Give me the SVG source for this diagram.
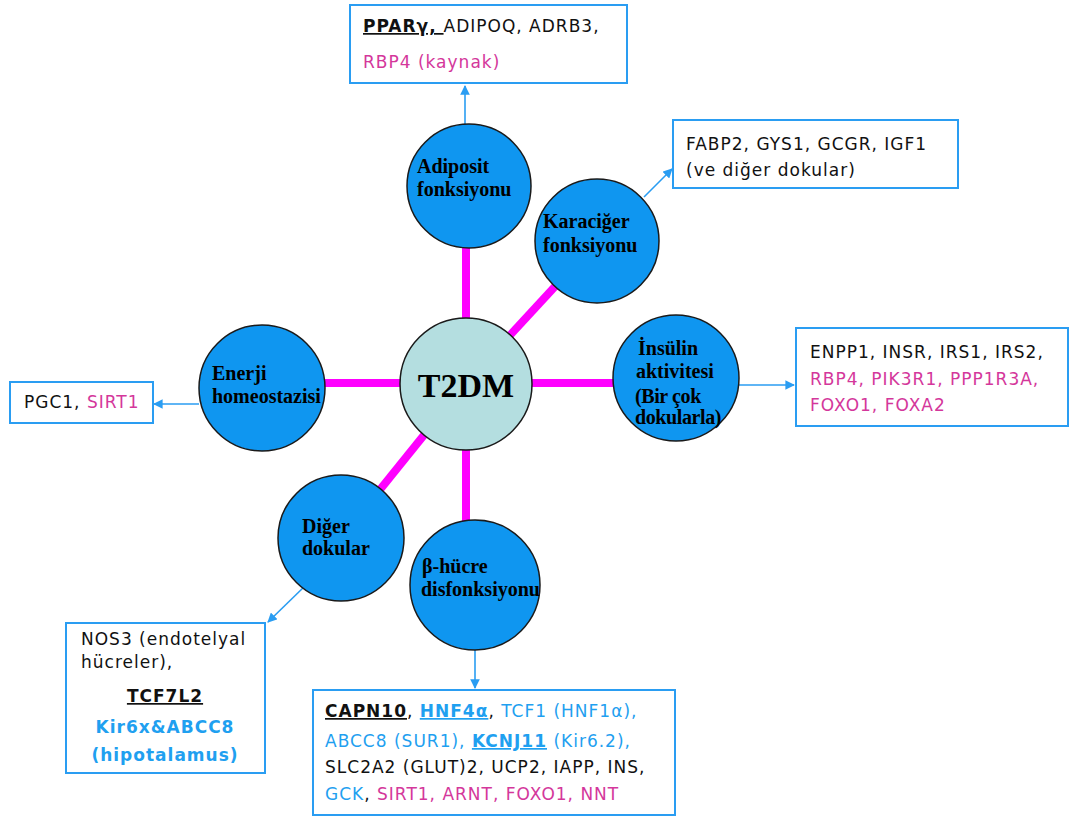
<svg xmlns="http://www.w3.org/2000/svg" width="1072" height="817" viewBox="0 0 1072 817">
<style>
.box{fill:#fff;stroke:#2a9df2;stroke-width:2}
.circ{fill:#0f96f0;stroke:#1a1a1a;stroke-width:1.5}
.hub{fill:#b4dee0;stroke:#1a1a1a;stroke-width:1.5}
.mag{stroke:#ff00ff;stroke-width:8;fill:none}
.arr{stroke:#2a9df2;stroke-width:1.6;fill:none;marker-end:url(#ah)}
.ct{font-family:"Liberation Serif","Times New Roman",serif;font-weight:bold;font-size:20px;fill:#000}
.st{font-family:"DejaVu Sans","Verdana",sans-serif;font-size:17px;fill:#111;letter-spacing:1px}
.m{fill:#d4379b}
.b{fill:#1fa0f0}
.bd{font-weight:bold}
.u{text-decoration:underline}
</style>
<defs>
<marker id="ah" viewBox="0 0 10 10" refX="9" refY="5" markerWidth="6" markerHeight="6" orient="auto" markerUnits="strokeWidth">
<path d="M0,0 L10,5 L0,10 z" fill="#2a9df2"/>
</marker>
</defs>
<g id="connectors">
<line class="mag" x1="466" y1="383" x2="466" y2="186"/>
<line class="mag" x1="466" y1="383" x2="597" y2="241"/>
<line class="mag" x1="466" y1="383" x2="676" y2="383"/>
<line class="mag" x1="466" y1="383" x2="262" y2="383"/>
<line class="mag" x1="466" y1="383" x2="341" y2="538"/>
<line class="mag" x1="466" y1="383" x2="466" y2="585"/>
<line class="arr" x1="465" y1="126" x2="465" y2="86"/>
<line class="arr" x1="644" y1="197" x2="672" y2="169"/>
<line class="arr" x1="738" y1="385" x2="794" y2="385"/>
<line class="arr" x1="199" y1="404" x2="154" y2="404"/>
<line class="arr" x1="306" y1="585" x2="268" y2="622"/>
<line class="arr" x1="475" y1="650" x2="475" y2="688"/>
</g>
<g id="hub">
<circle class="hub" cx="466" cy="384" r="66"/>
<text x="466" y="397" text-anchor="middle" font-family="Liberation Serif,serif" font-weight="bold" font-size="34">T2DM</text>
</g>
<g id="adiposit">
<circle class="circ" cx="469" cy="186" r="62"/>
<text class="ct" x="417" y="173">Adiposit</text>
<text class="ct" x="417" y="196">fonksiyonu</text>
</g>
<g id="karaciger">
<circle class="circ" cx="597" cy="241" r="62"/>
<text class="ct" x="543" y="228">Karaciğer</text>
<text class="ct" x="543" y="252">fonksiyonu</text>
</g>
<g id="insulin">
<circle class="circ" cx="676" cy="378" r="63"/>
<text class="ct" x="638" y="355">İnsülin</text>
<text class="ct" x="636" y="378">aktivitesi</text>
<text class="ct" x="635" y="403" font-size="17" letter-spacing="-0.4">(Bir çok</text>
<text class="ct" x="635" y="424" font-size="17" letter-spacing="-0.4">dokularla)</text>
</g>
<g id="enerji">
<circle class="circ" cx="262" cy="388" r="63"/>
<text class="ct" x="212" y="380">Enerji</text>
<text class="ct" x="212" y="403">homeostazisi</text>
</g>
<g id="diger">
<circle class="circ" cx="341" cy="538" r="63"/>
<text class="ct" x="302" y="533">Diğer</text>
<text class="ct" x="302" y="555">dokular</text>
</g>
<g id="beta">
<circle class="circ" cx="475" cy="585" r="65"/>
<text class="ct" x="422" y="573">β-hücre</text>
<text class="ct" x="421" y="596">disfonksiyonu</text>
</g>
<g id="box-adiposit">
<rect class="box" x="350" y="5" width="277" height="78"/>
<text class="st" x="363" y="32"><tspan class="bd u">PPARγ, </tspan>ADIPOQ, ADRB3,</text>
<text class="st m" x="363" y="68">RBP4 (kaynak)</text>
</g>
<g id="box-karaciger">
<rect class="box" x="673" y="120" width="285" height="68"/>
<text class="st" x="686" y="150">FABP2, GYS1, GCGR, IGF1</text>
<text class="st" x="686" y="176">(ve diğer dokular)</text>
</g>
<g id="box-insulin">
<rect class="box" x="796" y="328" width="272" height="98"/>
<text class="st" x="810" y="358">ENPP1, INSR, IRS1, IRS2,</text>
<text class="st m" x="810" y="385">RBP4, PIK3R1, PPP1R3A,</text>
<text class="st m" x="810" y="411">FOXO1, FOXA2</text>
</g>
<g id="box-enerji">
<rect class="box" x="10" y="382" width="143" height="41"/>
<text class="st" x="24" y="408">PGC1, <tspan class="m">SIRT1</tspan></text>
</g>
<g id="box-diger">
<rect class="box" x="66" y="623" width="199" height="150"/>
<text class="st" x="81" y="645" letter-spacing="0.4">NOS3 (endotelyal</text>
<text class="st" x="81" y="668" letter-spacing="0.4">hücreler),</text>
<text class="st bd u" x="165" y="702" text-anchor="middle" letter-spacing="0">TCF7L2</text>
<text class="st bd b" x="165" y="733" text-anchor="middle" letter-spacing="0">Kir6x&amp;ABCC8</text>
<text class="st bd b" x="165" y="761" text-anchor="middle" letter-spacing="0">(hipotalamus)</text>
</g>
<g id="box-beta">
<rect class="box" x="313" y="690" width="362" height="125"/>
<text class="st" x="325" y="717"><tspan class="bd u">CAPN10</tspan>, <tspan class="bd u b">HNF4α</tspan>, <tspan class="b">TCF1 (HNF1α),</tspan></text>
<text class="st b" x="325" y="747">ABCC8 (SUR1), <tspan class="bd u">KCNJ11</tspan> (Kir6.2),</text>
<text class="st" x="325" y="773">SLC2A2 (GLUT)2, UCP2, IAPP, INS,</text>
<text class="st" x="325" y="800"><tspan class="b">GCK</tspan>, <tspan class="m">SIRT1, ARNT, FOXO1, NNT</tspan></text>
</g>
</svg>
